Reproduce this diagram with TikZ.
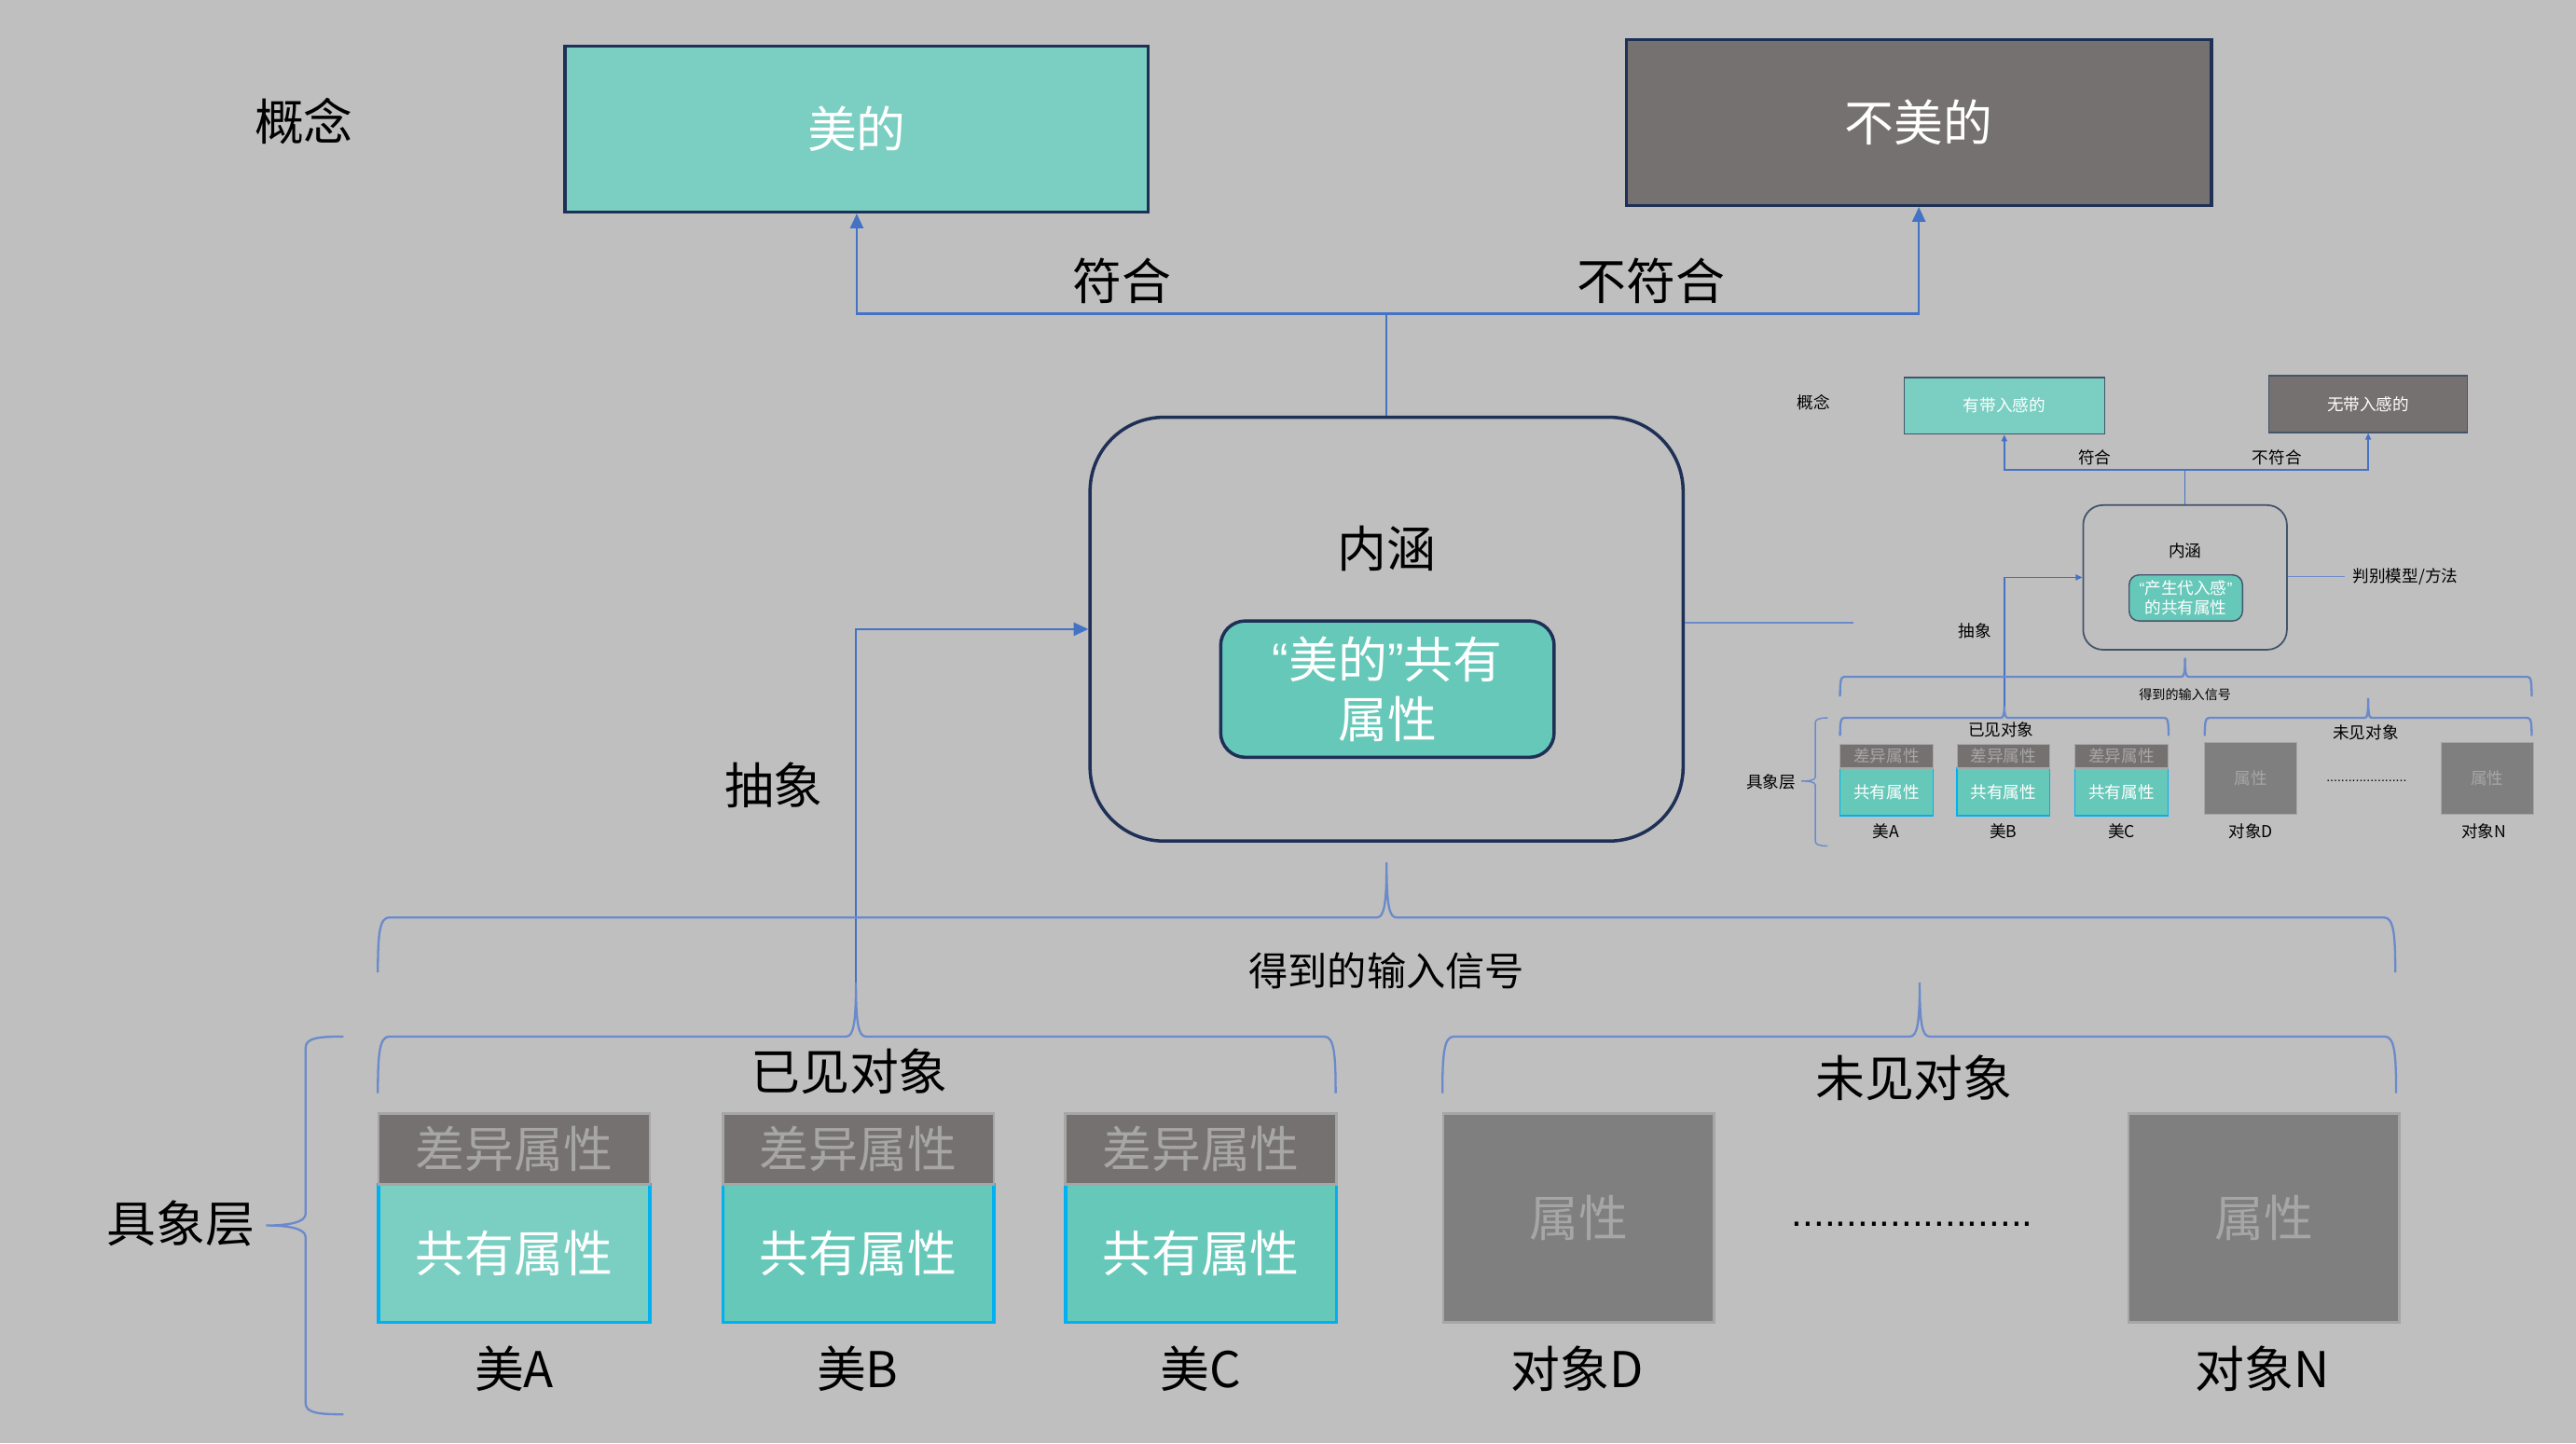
\documentclass[tikz,border=0pt]{standalone}
\usepackage{fontspec}
\setmainfont{Noto Sans CJK SC}
\newfontfamily\qf{Liberation Sans}
\usetikzlibrary{arrows.meta}
\definecolor{bg}{HTML}{BFBFBF}
\definecolor{tealL}{HTML}{7ACFC2}
\definecolor{tealM}{HTML}{66C8B9}
\definecolor{dgray}{HTML}{757170}
\definecolor{ugray}{HTML}{7F7F7F}
\definecolor{lgray}{HTML}{A6A6A6}
\definecolor{navy}{HTML}{1F3056}
\definecolor{slate}{HTML}{44546A}
\definecolor{arrowblue}{HTML}{4472C4}
\definecolor{braceblue}{HTML}{6A8ACB}
\definecolor{cyanb}{HTML}{00B0F0}
% horizontal brace: L R T y0 y1 ytip scale
\newcommand\hbr[7]{\draw[brace] (#1,#5) .. controls (#1,#4+#7*10) and (#1+#7*1,#4) .. (#1+#7*7,#4) -- (#3-#7*6,#4) .. controls (#3-#7*1.5,#4) and (#3,#4-#7*8) .. (#3,#6) .. controls (#3,#4-#7*8) and (#3+#7*1.5,#4) .. (#3+#7*6,#4) -- (#2-#7*7,#4) .. controls (#2-#7*1,#4) and (#2,#4+#7*10) .. (#2,#5);}
\begin{document}
\begin{tikzpicture}[x=1pt,y=-1pt,
 f30/.style={font=\fontsize{30}{36}\selectfont},
 f24/.style={font=\fontsize{24}{29}\selectfont},
 f10/.style={font=\fontsize{10}{12}\selectfont},
 f8/.style={font=\fontsize{8}{10}\selectfont},
 lbl/.style={inner sep=0pt, text=black},
 bigbox/.style={draw=navy, line width=2pt, inner sep=0pt, text=white, f30},
 conn/.style={draw=arrowblue, line width=1.3pt},
 arr/.style={-{Triangle[length=9pt,width=8pt]}},
 sconn/.style={draw=arrowblue, line width=0.8pt},
 sarr/.style={-{Triangle[length=4pt,width=3.5pt]}},
 brace/.style={draw=braceblue, line width=1.3pt},
 sbrace/.style={draw=braceblue, line width=0.8pt},
 diff/.style={fill=dgray, draw=lgray, line width=1.5pt, text=lgray, inner sep=0pt, f30, minimum width=165, minimum height=43},
 comm/.style={draw=cyanb, line width=2pt, text=white, inner sep=0pt, f30, minimum width=165, minimum height=84},
 unseen/.style={fill=ugray, draw=lgray, line width=1.5pt, text=lgray, inner sep=0pt, f30, minimum width=165, minimum height=127},
 sdiff/.style={fill=dgray, draw=lgray, line width=0.6pt, text=lgray, inner sep=0pt, f10, minimum width=56.6, minimum height=14.6},
 scomm/.style={fill=tealM, draw=cyanb, line width=0.7pt, text=white, inner sep=0pt, f10, minimum width=56.6, minimum height=29},
 sunseen/.style={fill=ugray, draw=lgray, line width=0.6pt, text=lgray, inner sep=0pt, f10, minimum width=56.5, minimum height=43.5},
 sbox/.style={draw=slate, line width=0.8pt, inner sep=0pt, text=white, f10, minimum height=34.5},
]
\fill[bg] (0,0) rectangle (1568,878.5);
\useasboundingbox (0,0) rectangle (1568,878.5);

% ---------- main diagram ----------
\node[lbl,f30] (gn) at (185,74) {概念};
\node[bigbox, fill=tealL, minimum width=355, minimum height=101] (mei) at (521.5,78.5) {美的};
\node[bigbox, fill=dgray, minimum width=356, minimum height=101] (bumei) at (1168,74.5) {不美的};

\node[draw=navy, line width=2pt, rounded corners=45pt, minimum width=361, minimum height=258, inner sep=0pt] (nh) at (844,383) {};
\node[lbl,f30] (nhl) at (844,334) {内涵};
\node[draw=navy, line width=2pt, fill=tealM, rounded corners=15pt, minimum width=203, minimum height=83, inner sep=0pt, text=white, f30, align=center] (gy) at (844.5,419.5) {{\qf “}美的{\qf ”}共有\\属性};

\coordinate (j) at (844,191);
\draw[conn] (nh.north) -- (j);
\draw[conn,arr] (j) -| (mei.south);
\draw[conn,arr] (j) -| (bumei.south);
\node[lbl,f30] (fh) at (683,171) {符合};
\node[lbl,f30] (bfh) at (1005,171) {不符合};

\coordinate (ab) at (521,598);
\draw[conn,arr] (ab) |- (nh.west);
\node[lbl,f30] (cx) at (471,478) {抽象};
\coordinate (re) at (1128,379);
\draw[brace, line width=1pt] (nh.east |- re) -- (re);

% braces
\hbr{230}{1458}{844}{558.5}{592}{525}{1}
\node[lbl,f24] (sr) at (844,591) {得到的输入信号};
\hbr{230}{813}{521}{631}{665.5}{598}{1}
\node[lbl,f30] (yj) at (517,652) {已见对象};
\hbr{878}{1458.5}{1168.5}{631}{665.5}{598}{1}
\node[lbl,f30] (wj) at (1165,656) {未见对象};
\draw[brace] (209,631) .. controls (193,631) and (186,632) .. (186,638) -- (186,739) .. controls (186,744) and (176,746) .. (162,746) .. controls (176,746) and (186,748) .. (186,753) -- (186,854) .. controls (186,860) and (193,861) .. (209,861);
\node[lbl,f30] (jx) at (110,745) {具象层};

% objects
\node[comm, fill=tealL] (ca) at (313,763) {共有属性};
\node[diff] (da) at (313,699.5) {差异属性};
\node[lbl,f30] (la) at (313,833) {美A};
\node[comm, fill=tealM] (cb) at (522.5,763) {共有属性};
\node[diff] (db) at (522.5,699.5) {差异属性};
\node[lbl,f30] (lb) at (522,833) {美B};
\node[comm, fill=tealM] (cc) at (731,763) {共有属性};
\node[diff] (dc) at (731,699.5) {差异属性};
\node[lbl,f30] (lc) at (731,833) {美C};
\node[unseen] (od) at (961,741.5) {属性};
\node[lbl,f30] (ld) at (960,833) {对象D};
\node[unseen] (on) at (1378,741.5) {属性};
\node[lbl,f30] (ln) at (1377,833) {对象N};
\node[inner sep=0pt, text=black, font=\qf\fontsize{24}{24}\selectfont] (dots) at (1164,745) {......................};

% ---------- inset ----------
\node[lbl,f10] (sgn) at (1104,245) {概念};
\node[sbox, fill=tealL, minimum width=122] (smei) at (1220,247) {有带入感的};
\node[sbox, fill=dgray, minimum width=121] (sbumei) at (1441.5,246) {无带入感的};
\node[draw=slate, line width=1pt, rounded corners=12pt, minimum width=124, minimum height=88, inner sep=0pt] (snh) at (1330,351.5) {};
\node[lbl,f10] (snhl) at (1330,335) {内涵};
\node[draw=slate, line width=0.8pt, fill=tealM, rounded corners=6pt, minimum width=69, minimum height=28, inner sep=0pt, text=white, f10, align=center] (sgy) at (1330.5,364) {{\qf “}产生代入感{\qf ”}\\的共有属性};

\coordinate (sj) at (1330,286);
\draw[sconn] (snh.north) -- (sj);
\draw[sconn,sarr] (sj) -| (smei.south);
\draw[sconn,sarr] (sj) -| (sbumei.south);
\node[lbl,f10] (sfh) at (1275,278.5) {符合};
\node[lbl,f10] (sbfh) at (1386,278.5) {不符合};

\coordinate (sab) at (1220,430);
\draw[sconn,sarr] (sab) |- (snh.west);
\node[lbl,f10] (scx) at (1202,384) {抽象};
\coordinate (spb) at (1427,351);
\draw[sbrace] (snh.east |- spb) -- (spb);
\node[lbl,f10,anchor=west] (spm) at (1432,351) {判别模型/方法};

\hbr{1120}{1541}{1330}{412}{424}{400.5}{0.35}
\node[lbl,f8] (ssr) at (1330,423) {得到的输入信号};
\hbr{1120}{1320}{1220}{437}{448}{430}{0.35}
\node[lbl,f10] (syj) at (1218,444) {已见对象};
\hbr{1342}{1541}{1441.5}{437}{448}{425}{0.35}
\node[lbl,f10] (swj) at (1440,446) {未见对象};
\draw[sbrace] (1112.5,437) .. controls (1107,437) and (1105,438) .. (1105,440) -- (1105,473) .. controls (1105,475) and (1101,475.5) .. (1096.5,475.5) .. controls (1101,475.5) and (1105,476) .. (1105,478) -- (1105,512) .. controls (1105,514) and (1107,515) .. (1112.5,515);
\node[lbl,f10] (sjx) at (1078,476) {具象层};

\node[scomm] (sca) at (1148.3,482) {共有属性};
\node[sdiff] (sda) at (1148.3,460.3) {差异属性};
\node[lbl,f10] (sla) at (1148,506) {美A};
\node[scomm] (scb) at (1219.5,482) {共有属性};
\node[sdiff] (sdb) at (1219.5,460.3) {差异属性};
\node[lbl,f10] (slb) at (1219.5,506) {美B};
\node[scomm] (scc) at (1291.3,482) {共有属性};
\node[sdiff] (sdc) at (1291.3,460.3) {差异属性};
\node[lbl,f10] (slc) at (1291.3,506) {美C};
\node[sunseen] (sod) at (1370,474) {属性};
\node[lbl,f10] (sld) at (1370,506) {对象D};
\node[sunseen] (son) at (1514,474) {属性};
\node[lbl,f10] (sln) at (1512,506) {对象N};
\node[inner sep=0pt, text=black, font=\qf\fontsize{8}{8}\selectfont] (sdots) at (1440.5,475.5) {......................};
\end{tikzpicture}
\end{document}
